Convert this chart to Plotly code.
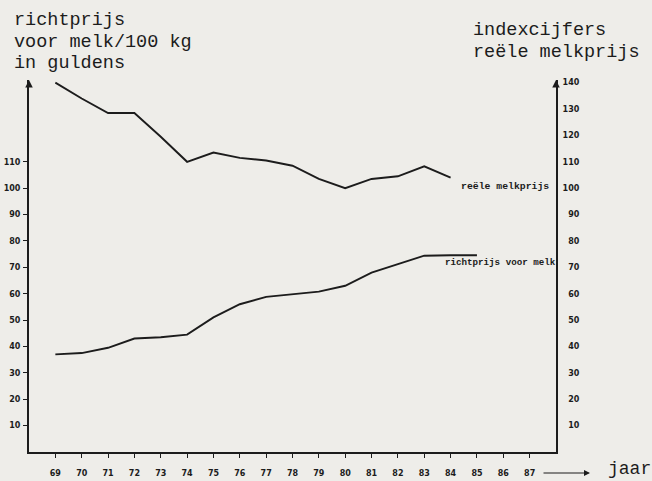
import plotly.graph_objects as go

# ---- data ----
years_index = [69, 70, 71, 72, 73, 74, 75, 76, 77, 78, 79, 80, 81, 82, 83, 84]
index_values = [140, 134, 128.5, 128.5, 119.5, 110, 113.5, 111.5, 110.5, 108.5,
                103.5, 100, 103.5, 104.5, 108.3, 104]

years_richt = [69, 70, 71, 72, 73, 74, 75, 76, 77, 78, 79, 80, 81, 82, 83, 84, 85]
richt_values = [37, 37.5, 39.5, 43, 43.5, 44.5, 51, 56, 58.8, 59.8, 60.8, 63,
                68, 71.2, 74.4, 74.6, 74.6]

x_ticks = list(range(69, 88))
x_ticktext = [str(v) for v in x_ticks]
left_ticks = list(range(10, 120, 10))
right_ticks = list(range(10, 150, 10))
right_ticktext = [("\u2007" + str(v)) if v < 100 else str(v) for v in right_ticks]

# ---- layout geometry ----
W, H = 652, 481
L, R, T, B = 29, 96, 80, 29
pw = W - L - R
ph = H - T - B
INK = "#1c1c1c"
PAPER = "#eeede9"
MONO = "Liberation Mono, Courier New, monospace"
TICKF = "DejaVu Sans, Arial, sans-serif"


def px(x):
    return (x - L) / pw


def py(y):
    return (H - B - y) / ph


fig = go.Figure()
fig.add_trace(go.Scatter(x=years_index, y=index_values, mode="lines",
                         line=dict(color=INK, width=1.9), yaxis="y2",
                         showlegend=False, hoverinfo="skip"))
fig.add_trace(go.Scatter(x=years_richt, y=richt_values, mode="lines",
                         line=dict(color=INK, width=1.9),
                         showlegend=False, hoverinfo="skip"))

fig.update_layout(
    width=W, height=H,
    margin=dict(l=L, r=R, t=T, b=B, autoexpand=False),
    paper_bgcolor=PAPER, plot_bgcolor=PAPER,
    xaxis=dict(range=[68, 88], tickvals=x_ticks, ticktext=x_ticktext,
               showline=True, linewidth=2, linecolor=INK, automargin=False,
               ticks="outside", ticklen=4, tickwidth=1.2, tickcolor=INK,
               tickfont=dict(family=TICKF, size=8, color=INK, weight="bold"),
               ticklabelstandoff=8, showgrid=False, zeroline=False),
    yaxis=dict(range=[0, 141], tickvals=left_ticks, automargin=False,
               showline=True, linewidth=2, linecolor=INK,
               ticks="outside", ticklen=4, tickwidth=1.2, tickcolor=INK,
               tickfont=dict(family=TICKF, size=8, color=INK, weight="bold"),
               ticklabelstandoff=1, showgrid=False, zeroline=False),
    yaxis2=dict(range=[0, 141], tickvals=right_ticks, ticktext=right_ticktext,
                overlaying="y", side="right", automargin=False,
                showline=True, linewidth=2, linecolor=INK, ticks="",
                tickfont=dict(family=TICKF, size=8, color=INK, weight="bold"),
                ticklabelstandoff=3, showgrid=False, zeroline=False),
)

ann = []
# axis arrowheads
for xd in (0, 1):
    ann.append(dict(xref="x domain", yref="y domain", x=xd, y=1.0, ax=0, ay=8,
                    showarrow=True, arrowhead=2, arrowsize=1, arrowwidth=1.5,
                    arrowcolor=INK, text=""))
# year arrow
ann.append(dict(xref="paper", yref="paper", x=px(590), y=py(473), ax=-48, ay=0,
                showarrow=True, arrowhead=2, arrowsize=1, arrowwidth=1.2,
                arrowcolor=INK, text=""))
ann.append(dict(xref="paper", yref="paper", x=px(606), y=py(469), xanchor="left",
                yanchor="middle", showarrow=False, text="jaar",
                font=dict(family=MONO, size=18, color=INK)))
# titles
for i, line in enumerate(["richtprijs", "voor melk/100 kg", "in guldens"]):
    ann.append(dict(xref="paper", yref="paper", x=px(12), y=py(20.5 + 21.5 * i),
                    xanchor="left", yanchor="middle", showarrow=False, text=line,
                    font=dict(family=MONO, size=18.5, color=INK)))
for i, line in enumerate(["indexcijfers", "reële melkprijs"]):
    ann.append(dict(xref="paper", yref="paper", x=px(471), y=py(31 + 21.5 * i),
                    xanchor="left", yanchor="middle", showarrow=False, text=line,
                    font=dict(family=MONO, size=18.5, color=INK)))
# series labels
ann.append(dict(xref="x", yref="y", x=84.3, y=100.5, xanchor="left", yanchor="middle",
                showarrow=False, text="<b>reële melkprijs</b>",
                font=dict(family=MONO, size=9.8, color=INK)))
ann.append(dict(xref="x", yref="y", x=83.7, y=72, xanchor="left", yanchor="middle",
                showarrow=False, text="<b>richtprijs voor melk</b>",
                font=dict(family=MONO, size=9.2, color=INK)))

fig.update_layout(annotations=ann)
fig.write_html("out.html", config={"displayModeBar": False},
               post_script="document.body.style.margin='0';")
